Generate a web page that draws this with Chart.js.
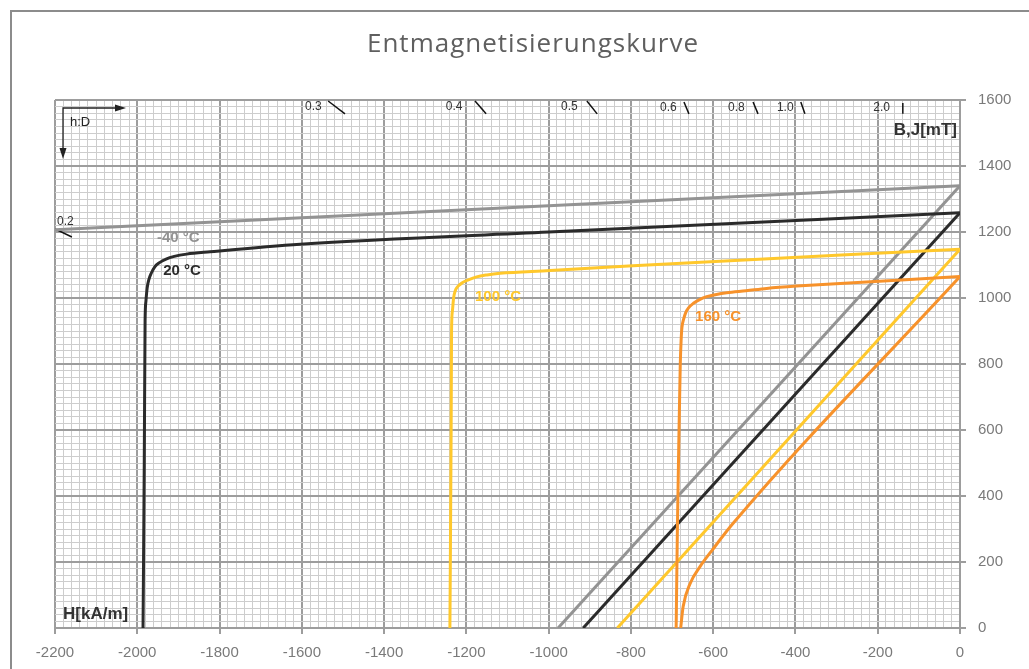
<!DOCTYPE html>
<html>
<head>
<meta charset="utf-8">
<script src="https://cdn.jsdelivr.net/npm/chart.js@4/dist/chart.umd.min.js"></script>
<style>
  body { margin: 0; background: #fff; }
  #wrap { width: 1029px; height: 669px; }
</style>
</head>
<body>
<div id="wrap"><canvas id="myC" width="1029" height="669"></canvas></div>
<script>
// Entmagnetisierungskurve: H [kA/m], B/J [mT]
const hJm40 = [-2200, 0];
const bJm40 = [1207, 1340];
const hBm40 = [-977, 0];
const bBm40 = [0, 1340];

const hJ20 = [-1986, -1983, -1981, -1979, -1976, -1972, -1966, -1957, -1945, -1930, -1910, -1880, -1823, -1604, -1000, 0];
const bJ20 = [0, 500, 930, 990, 1030, 1055, 1075, 1095, 1108, 1118, 1126, 1133, 1140, 1163, 1200, 1258];
const hB20 = [-916, 0];
const bB20 = [0, 1258];

const hJ100 = [-1240, -1237, -1236, -1234, -1231, -1227, -1220, -1210, -1195, -1175, -1150, -1118, -997, -795, 0];
const bJ100 = [0, 600, 900, 960, 1000, 1022, 1036, 1046, 1055, 1064, 1070, 1075, 1083, 1098, 1148];
const hB100 = [-833, 0];
const bB100 = [0, 1148];

const hJ160 = [-690, -687, -683, -680, -678, -676, -672, -667, -660, -648, -632, -616, -595, -567, -520, -470, -397, 0];
const bJ160 = [0, 300, 600, 800, 870, 910, 935, 955, 970, 984, 996, 1004, 1010, 1016, 1022, 1029, 1036, 1065];
const hB160 = [-679, -673, -656, -632, -600, -551, 0];
const bB160 = [0, 65, 135, 186, 240, 318, 1065];

// Arbeitsgeraden h:D (kurze Stücke)
const loadLabels = ['0.2', '0.3', '0.4', '0.5', '0.6', '0.8', '1.0', '2.0'];
const loadH1 = [-2200, -1536, -1179, -907, -671, -503, -387, -139];
const loadB1 = [1209, 1597, 1597, 1597, 1594, 1594, 1594, 1591];
const loadH2 = [-2159, -1495, -1152, -882, -659, -491, -377, -139];
const loadB2 = [1185, 1558, 1558, 1558, 1558, 1558, 1558, 1558];
const loadTextH = [-2195, -1592, -1250, -970, -729, -564, -445, -211];
const loadTextB = [1230, 1579, 1579, 1579, 1576, 1576, 1576, 1576];

const tempLabels = ['-40 °C', '20 °C', '100 °C', '160 °C'];
const tempH = [-1952, -1937, -1179, -644];
const tempB = [1182, 1082, 1003, 942];

const grau = '#939393';
const schwarz = '#2b2b2b';
const gelb = '#ffc82c';
const orange = '#f7922b';
const tempColors = [grau, schwarz, gelb, orange];

const pts = (hs, bs) => hs.map((h, i) => ({ x: h, y: bs[i] }));

function kurve(hs, bs, color) {
  return {
    data: pts(hs, bs),
    borderColor: color,
    borderWidth: 3,
    pointRadius: 0,
    fill: false,
    cubicInterpolationMode: 'monotone'
  };
}

const datasets = [
  kurve(hJ160, bJ160, orange),
  kurve(hB160, bB160, orange),
  kurve(hJ100, bJ100, gelb),
  kurve(hB100, bB100, gelb),
  kurve(hJ20, bJ20, schwarz),
  kurve(hB20, bB20, schwarz),
  kurve(hJm40, bJm40, grau),
  kurve(hBm40, bBm40, grau)
];
loadLabels.forEach((l, i) => {
  datasets.push({
    data: [{ x: loadH1[i], y: loadB1[i] }, { x: loadH2[i], y: loadB2[i] }],
    borderColor: '#111',
    borderWidth: 1.5,
    pointRadius: 0,
    fill: false
  });
});

const isMajor = ctx => ctx.tick && Math.abs(ctx.tick.value % 200) < 1e-6;

const gridOpts = {
  color: ctx => isMajor(ctx) ? '#9d9d9d' : '#cdcdcd',
  lineWidth: ctx => isMajor(ctx) ? 2 : 1,
  tickColor: ctx => isMajor(ctx) ? '#9d9d9d' : 'rgba(0,0,0,0)',
  tickLength: 6
};

const texte = {
  id: 'texte',
  beforeDraw(chart) {
    const c = chart.ctx;
    c.save();
    c.fillStyle = '#fff';
    c.fillRect(0, 0, chart.width, chart.height);
    c.strokeStyle = '#8c8c8c';
    c.lineWidth = 2;
    c.beginPath();
    c.moveTo(11, chart.height);
    c.lineTo(11, 11);
    c.lineTo(chart.width, 11);
    c.stroke();
    c.fillStyle = '#5f5f5f';
    c.font = '26px "Open Sans"';
    c.letterSpacing = '1px';
    c.textAlign = 'center';
    c.textBaseline = 'alphabetic';
    c.fillText('Entmagnetisierungskurve', 533, 52);
    c.restore();
  },
  afterDatasetsDraw(chart) {
    const c = chart.ctx;
    const x = chart.scales.x, y = chart.scales.y;
    const a = chart.chartArea;
    c.save();
    c.textBaseline = 'middle';
    c.textAlign = 'left';
    c.fillStyle = '#333';
    c.font = '12px "Liberation Sans", Arial';
    loadLabels.forEach((l, i) => {
      c.fillText(l, x.getPixelForValue(loadTextH[i]), y.getPixelForValue(loadTextB[i]));
    });
    c.font = 'bold 15px "Liberation Sans", Arial';
    tempLabels.forEach((l, i) => {
      c.fillStyle = tempColors[i];
      c.fillText(l, x.getPixelForValue(tempH[i]), y.getPixelForValue(tempB[i]));
    });
    c.fillStyle = '#333';
    c.font = 'bold 17px "Liberation Sans", Arial';
    c.textAlign = 'right';
    c.fillText('B,J[mT]', a.right - 3, a.top + 30);
    c.textAlign = 'left';
    c.fillText('H[kA/m]', a.left + 8, a.bottom - 14);

    // h:D Pfeile
    const ox = a.left + 8, oy = a.top + 8;
    c.strokeStyle = '#222';
    c.fillStyle = '#222';
    c.lineWidth = 1.3;
    c.beginPath();
    c.moveTo(ox + 52, oy);
    c.lineTo(ox, oy);
    c.lineTo(ox, oy + 40);
    c.stroke();
    c.beginPath();
    c.moveTo(ox + 63, oy);
    c.lineTo(ox + 52, oy - 3.5);
    c.lineTo(ox + 52, oy + 3.5);
    c.closePath();
    c.fill();
    c.beginPath();
    c.moveTo(ox, oy + 51);
    c.lineTo(ox - 3.5, oy + 40);
    c.lineTo(ox + 3.5, oy + 40);
    c.closePath();
    c.fill();
    c.font = '13px "Liberation Sans", Arial';
    c.fillText('h:D', ox + 7, oy + 14);
    c.restore();
  }
};

const ctx = document.querySelector('#myC').getContext('2d');
const chart = new Chart(ctx, {
  type: 'line',
  data: { datasets },
  options: {
    responsive: false,
    animation: false,
    layout: { padding: { left: 55, top: 100, right: 0, bottom: 0 } },
    scales: {
      x: {
        type: 'linear',
        position: 'bottom',
        min: -2200,
        max: 0,
        afterFit: s => { s.height = 41; },
        grid: gridOpts,
        border: { color: '#9d9d9d', width: 2 },
        ticks: {
          stepSize: 20,
          autoSkip: false,
          maxRotation: 0,
          minRotation: 0,
          padding: 10,
          color: '#7a7a7a',
          font: { family: '"Liberation Sans", Arial', size: 15 },
          callback: v => (Math.abs(v % 200) < 1e-6 ? v : '')
        }
      },
      y: {
        type: 'linear',
        position: 'right',
        min: 0,
        max: 1600,
        afterFit: s => { s.width = 69; },
        grid: gridOpts,
        border: { color: '#9d9d9d', width: 2 },
        ticks: {
          stepSize: 20,
          autoSkip: false,
          padding: 12,
          color: '#7a7a7a',
          font: { family: '"Liberation Sans", Arial', size: 15 },
          callback: v => (Math.abs(v % 200) < 1e-6 ? v : '')
        }
      }
    },
    plugins: {
      legend: { display: false },
      tooltip: { enabled: false }
    }
  },
  plugins: [texte]
});
</script>
</body>
</html>
